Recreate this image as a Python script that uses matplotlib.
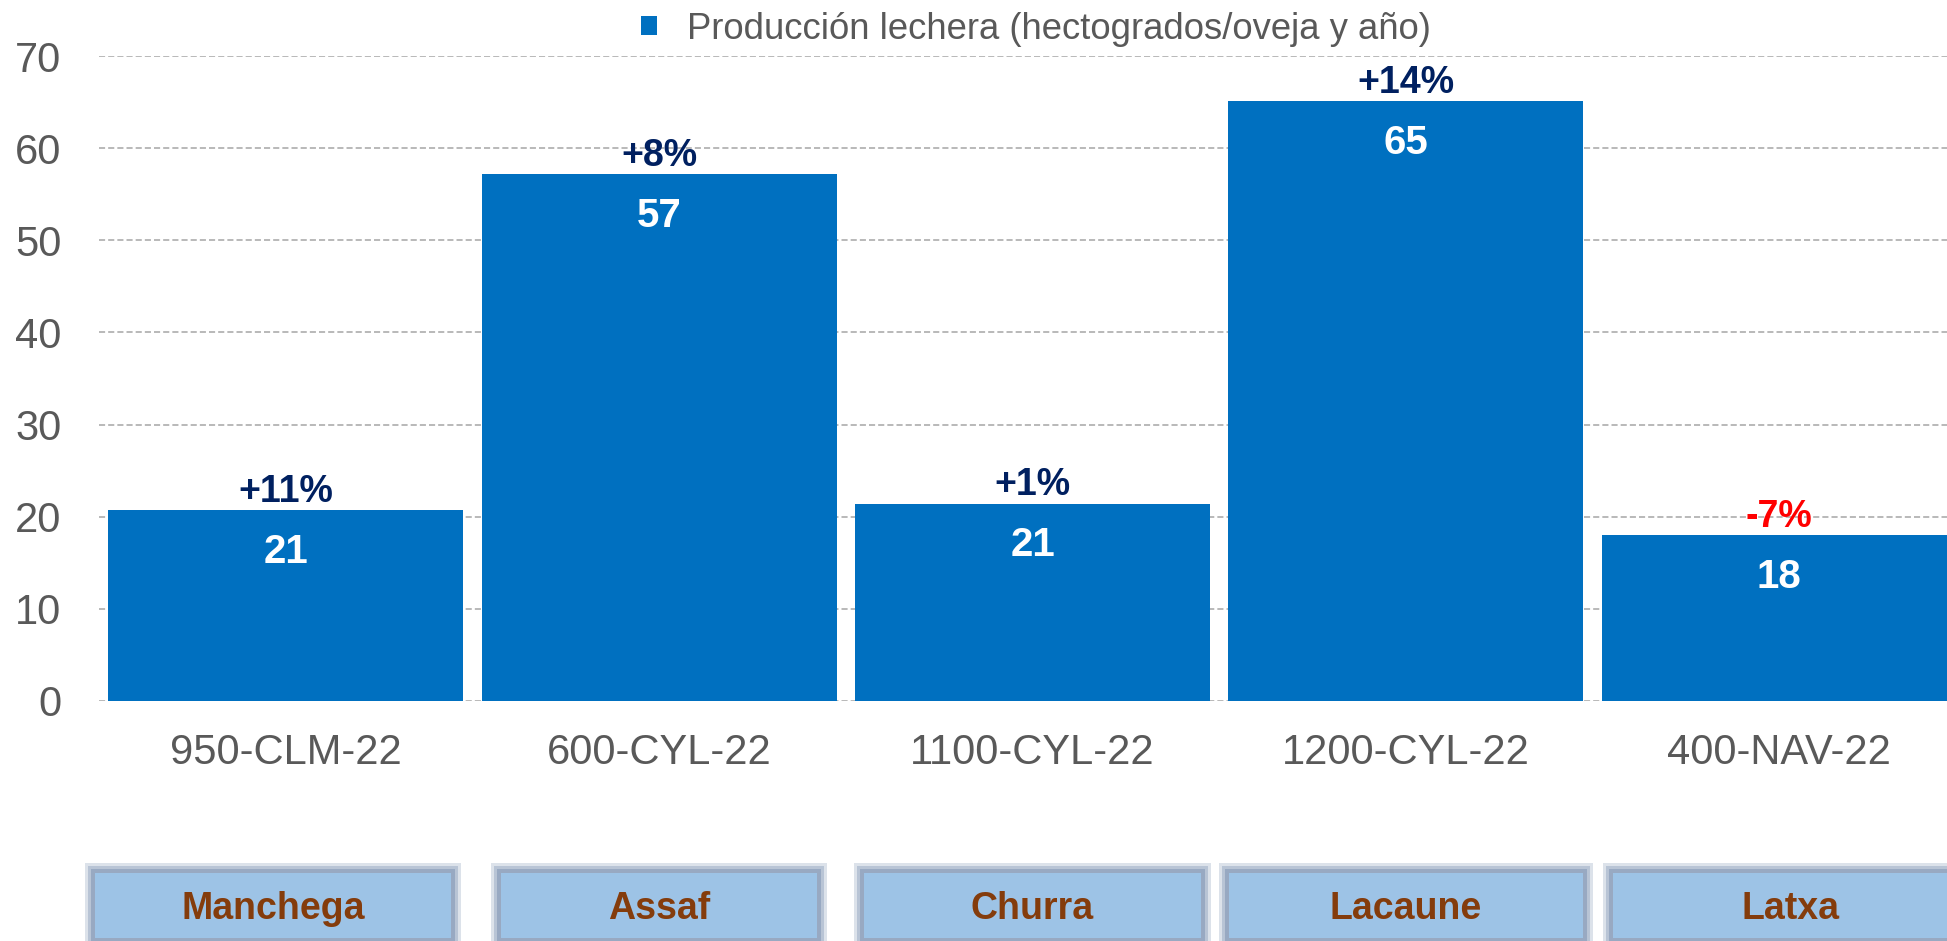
import matplotlib.pyplot as plt
import matplotlib.transforms as mtransforms
from matplotlib.patches import Rectangle
import numpy as np

plt.rcParams['font.family'] = ['Liberation Sans', 'DejaVu Sans']

# data
categories = ['950-CLM-22', '600-CYL-22', '1100-CYL-22', '1200-CYL-22', '400-NAV-22']
values = [20.7, 57.2, 21.4, 65.1, 18.0]
value_labels = ['21', '57', '21', '65', '18']
changes = ['+11%', '+8%', '+1%', '+14%', '-7%']
breeds = ['Manchega', 'Assaf', 'Churra', 'Lacaune', 'Latxa']
series_name = 'Producción lechera (hectogrados/oveja y año)'

# look
bar_color = '#0070C0'
text_gray = '#595959'
pct_pos = '#002060'
pct_neg = '#FF0000'
box_fill = '#9DC3E6'
box_text = '#843C0C'
box_widths = [0.953, 0.846, 0.90, 0.948, 0.95]
box_shift = [-0.034, 0.0, 0.0, 0.0, 0.03]

W, H = 1947, 941
fig = plt.figure(figsize=(W / 100, H / 100), dpi=100)
left, bottom, top = 99 / W, 240.3 / H, 884.7 / H
ax = fig.add_axes([left, bottom, 1 - left, top - bottom])

x = np.arange(len(categories))
bars = ax.bar(x, values, width=0.951, color=bar_color, label=series_name, zorder=3)

ax.set_xlim(-0.5, -0.5 + (W - 99) / 373.4)
ax.set_ylim(0, 70)
ax.set_yticks(np.arange(0, 71, 10))
ax.set_xticks(x)
ax.set_xticklabels(categories)
ax.tick_params(axis='both', length=0, labelsize=30, colors=text_gray)
ax.tick_params(axis='y', pad=27)
ax.tick_params(axis='x', pad=23)
ax.grid(axis='y', color='#A6A6A6', linestyle=(0, (4, 2)), linewidth=1.1, zorder=0)
for s in ax.spines.values():
    s.set_visible(False)

for i, v in enumerate(values):
    ax.annotate(value_labels[i], (x[i], v), xytext=(0, -38), textcoords='offset points',
                ha='center', va='baseline', fontsize=29, fontweight='bold', color='white', zorder=4)
    c = pct_neg if changes[i].startswith('-') else pct_pos
    ax.annotate(changes[i], (x[i], v), xytext=(0, 6), textcoords='offset points',
                ha='center', va='baseline', fontsize=27, fontweight='bold', color=c, zorder=4)

# breed boxes under the categories
trans = mtransforms.blended_transform_factory(ax.transData, fig.transFigure)
y0, y1 = 1 - 938 / H, 1 - 872.7 / H
for i, b in enumerate(breeds):
    cx = x[i] + box_shift[i]
    w = box_widths[i]
    for k, a in zip([10, 7, 4], [0.3, 0.45, 0.75]):
        dx = k / 373.4
        dy = k / H
        ax.add_patch(Rectangle((cx - w / 2 - dx, y0 - dy), w + 2 * dx, y1 - y0 + 2 * dy,
                               transform=trans, facecolor='#8EA0BC', edgecolor='none',
                               alpha=a, clip_on=False))
    ax.add_patch(Rectangle((cx - w / 2, y0), w, y1 - y0, transform=trans,
                           facecolor=box_fill, edgecolor='none', clip_on=False))
    ax.text(cx, 1 - 909 / H, b, transform=trans, ha='center', va='center',
            fontsize=27, fontweight='bold', color=box_text)

fig.legend(handles=[bars], labels=[series_name], loc='center', bbox_to_anchor=(0.532, 0.969),
           frameon=False, fontsize=26.3, labelcolor=text_gray, handlelength=0.45,
           handleheight=0.45, handletextpad=0.8, borderpad=0)

fig.savefig('out.png', dpi=100)
